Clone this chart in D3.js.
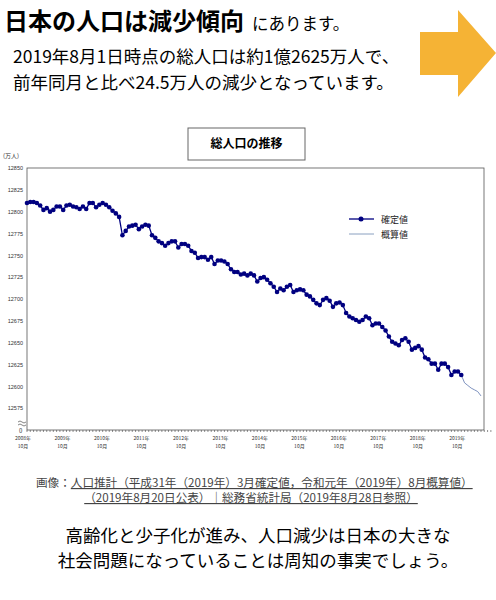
<!DOCTYPE html>
<html><head><meta charset="utf-8">
<script src="https://cdn.jsdelivr.net/npm/d3@7"></script>
<style>body{margin:0;background:#fff}svg{display:block;font-family:"Noto Sans CJK JP","Noto Sans",sans-serif}</style>
</head><body>
<script>
const confirmed = [12810,12811,12811,12810,12807,12802,12804,12800,12802,12806,12806,12802,12807,12808,12806,12805,12803,12806,12803,12810,12810,12805,12808,12810,12808,12805,12801,12798,12794,12773,
12778,12783,12784,12785,12780,12783,12785,12784,12773,12770,12766,12764,12761,12764,12766,12766,12759,12763,12763,12761,12755,12753,12747,12748,12748,12745,12748,12740,12744,12744,12743,12740,12734,12731,12731,12728,12729,
12727,12729,12727,12720,12724,12725,12722,12718,12714,12708,12712,12710,12714,12716,12708,12710,12711,12710,12705,12703,12699,12695,12693,12699,12701,12698,12691,12695,12696,12693,12684,12680,12678,12676,12674,12676,12680,12678,12670,12672,12672,12668,12664,12657,12651,12649,12647,12653,12655,
12651,12642,12644,12646,12642,12633,12631,12626,12626,12619,12626,12626,12622,12613,12617,12617,12613];
const estimated = [12613,12604,12601,12598,12596,12594,12589];
const yTicks = [12575,12600,12625,12650,12675,12700,12725,12750,12775,12800,12825,12850];
const xYears = ["2008年","2009年","2010年","2011年","2012年","2013年","2014年","2015年","2016年","2017年","2018年","2019年"];
const xMonth = "10月";

const svg = d3.select("body").append("svg").attr("width",496).attr("height",600);
const N = confirmed.length + estimated.length - 2;
const x = d3.scaleLinear().domain([0,N]).range([27,481]);
const y = d3.scaleLinear().domain([12550,12850]).range([430,168]);

// header
const h = svg.append("text").attr("x",4).attr("y",30);
h.append("tspan").attr("font-size",24).attr("font-weight","bold").text("日本の人口は減少傾向");
h.append("tspan").attr("font-size",16.5).attr("dx",8).text("にあります。");
svg.append("text").attr("x",13).attr("y",63).attr("font-size",17.5).text("2019年8月1日時点の総人口は約1億2625万人で、");
svg.append("text").attr("x",13).attr("y",89).attr("font-size",17.5).text("前年同月と比べ24.5万人の減少となっています。");
svg.append("path").attr("fill","#f5b335")
  .attr("d","M420,32 L458,32 L458,10 L496,53 L458,97 L458,75 L420,75 Z");

// title box
svg.append("rect").attr("x",188).attr("y",128).attr("width",117).attr("height",32).attr("fill","#fff").attr("stroke","#666");
svg.append("text").attr("x",246.5).attr("y",148).attr("text-anchor","middle").attr("font-size",12).attr("font-weight","bold").text("総人口の推移");

// frame
svg.append("rect").attr("x",27).attr("y",168).attr("width",457).attr("height",262).attr("fill","none").attr("stroke","#555").attr("stroke-width",0.8);
svg.append("text").attr("x",3).attr("y",158).attr("font-size",6).attr("fill","#333").text("(万人)");

const yAx = svg.append("g").attr("transform","translate(27,0)")
  .call(d3.axisLeft(y).tickValues(yTicks).tickSize(0).tickPadding(4).tickFormat(d3.format("d")));
yAx.select(".domain").remove();
yAx.selectAll("text").attr("font-size",5.5).attr("fill","#333");
svg.append("text").attr("x",19).attr("y",433).attr("font-size",6).attr("fill","#333").text("0");
svg.append("path").attr("d","M18,422 q2,-2 4,0 t4,0 M18,425 q2,-2 4,0 t4,0").attr("fill","none").attr("stroke","#333").attr("stroke-width",0.6);

// x ticks
const months = d3.range(0, N+4);
svg.append("g").selectAll("line").data(months).join("line")
  .attr("x1",d=>x(d)).attr("x2",d=>x(d)).attr("y1",430).attr("y2",432).attr("stroke","#444").attr("stroke-width",0.6);
xYears.forEach((t,k)=>{
  const xp = x(12*k-1.2);
  svg.append("text").attr("x",xp).attr("y",440).attr("text-anchor","middle").attr("font-size",5).attr("fill","#333").text(t);
  svg.append("text").attr("x",xp).attr("y",448).attr("text-anchor","middle").attr("font-size",5).attr("fill","#333").text(xMonth);
});

// lines
const line = d3.line().x(d=>x(d[0])).y(d=>y(d[1]));
const estOff = confirmed.length-1;
svg.append("path").datum(estimated.map((v,i)=>[i+estOff,v])).attr("d",line).attr("fill","none").attr("stroke","#6f86b8").attr("stroke-width",0.9);
svg.append("path").datum(confirmed.map((v,i)=>[i,v])).attr("d",line).attr("fill","none").attr("stroke","#000080").attr("stroke-width",1.3);
svg.append("g").selectAll("circle").data(confirmed).join("circle")
  .attr("cx",(d,i)=>x(i)).attr("cy",d=>y(d)).attr("r",2.3).attr("fill","#000080");

// legend
svg.append("line").attr("x1",349).attr("x2",374).attr("y1",219).attr("y2",219).attr("stroke","#000080").attr("stroke-width",1.3);
svg.append("circle").attr("cx",361).attr("cy",219).attr("r",2.5).attr("fill","#000080");
svg.append("line").attr("x1",349).attr("x2",374).attr("y1",234).attr("y2",234).attr("stroke","#8aa0c0").attr("stroke-width",1);
svg.append("text").attr("x",381).attr("y",223).attr("font-size",9).attr("fill","#222").text("確定値");
svg.append("text").attr("x",381).attr("y",238).attr("font-size",9).attr("fill","#222").text("概算値");

// caption
const c1 = svg.append("text").attr("x",36).attr("y",487).attr("font-size",11.6).attr("fill","#444");
c1.append("tspan").text("画像：");
c1.append("tspan").attr("text-decoration","underline").text("人口推計（平成31年（2019年）3月確定値，令和元年（2019年）8月概算値）");
svg.append("text").attr("x",251).attr("y",502).attr("text-anchor","middle").attr("font-size",11.6).attr("fill","#444").attr("text-decoration","underline")
  .text("（2019年8月20日公表）｜総務省統計局（2019年8月28日参照）");

svg.append("text").attr("x",258).attr("y",542).attr("text-anchor","middle").attr("font-size",17.5).text("高齢化と少子化が進み、人口減少は日本の大きな");
svg.append("text").attr("x",258).attr("y",567).attr("text-anchor","middle").attr("font-size",17.5).text("社会問題になっていることは周知の事実でしょう。");
</script>
</body></html>
